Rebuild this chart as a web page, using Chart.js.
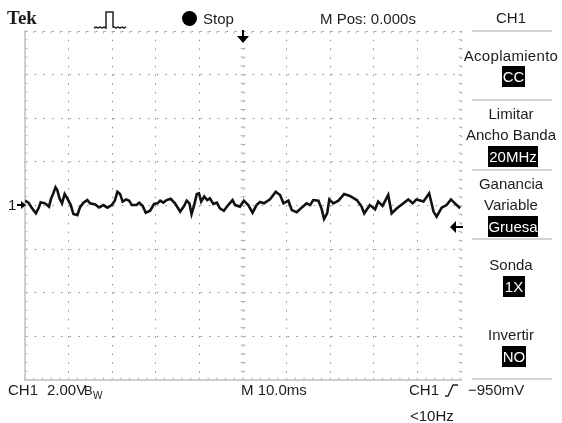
<!DOCTYPE html>
<html lang="en">

<head>
    <meta charset="UTF-8">
    <title>Tek CH1</title>
    <style>
        html, body { margin: 0; padding: 0; background: #fff; }
        #scope {
            position: relative;
            width: 562px;
            height: 423px;
            overflow: hidden;
            font-family: "Liberation Sans", Arial, sans-serif;
            font-size: 15px;
            color: #1c1c1c;
            filter: blur(0.6px);
        }
        canvas { position: absolute; left: 0; top: 0; }
        .t { position: absolute; white-space: nowrap; line-height: 18px; height: 18px; }
        .c { left: 462px; width: 98px; text-align: center; }
        .box { position: absolute; background: #000; color: #fff; text-align: center; font-size: 15px; line-height: 21px; height: 21px; }
        .sep { position: absolute; left: 472px; width: 80px; height: 2px; background: #d4d4d4; }
        svg { position: absolute; }
    </style>
</head>

<body>
    <div id="scope">
        <canvas id="trace" width="562" height="423"></canvas>

        <!-- top bar -->
        <span class="t" style="left:7px;top:9px;font:bold 19px 'Liberation Serif',serif;line-height:18px">Tek</span>
        <svg style="left:92px;top:9px" width="36" height="22" fill="none" stroke="#222" stroke-width="1.5">
            <path d="M2 19l2-1 2 1 2-1 2 1 2-1 2 1V3h7v15h1l2 1 2-1 2 1 2-1 2 1 2-1" />
        </svg>
        <span style="position:absolute;left:182px;top:11px;width:15px;height:15px;border-radius:50%;background:#000"></span>
        <span class="t" style="left:203px;top:10px">Stop</span>
        <span class="t" style="left:320px;top:10px">M Pos: 0.000s</span>

        <!-- markers on the graticule -->
        <svg style="left:236px;top:30px" width="14" height="14" fill="#000"><path d="M6 0h2v6h5l-6 7-6-7h5z" /></svg>
        <svg style="left:449px;top:220px" width="14" height="14" fill="#000"><path d="M14 6v2H7v5L1 7l6-6v5z" /></svg>
        <span class="t" style="left:8px;top:196px">1</span>
        <svg style="left:17px;top:200px" width="10" height="10" fill="#000"><path d="M0 4h4V1l5 4-5 4V6H0z" /></svg>

        <!-- right menu -->
        <span class="t c" style="top:9px">CH1</span>
        <div class="sep" style="top:30px"></div>
        <span class="t c" style="top:47px;letter-spacing:.3px">Acoplamiento</span>
        <div class="box" style="left:502px;top:66px;width:23px">CC</div>
        <div class="sep" style="top:99px"></div>
        <span class="t c" style="top:105px">Limitar</span>
        <span class="t c" style="top:126px">Ancho Banda</span>
        <div class="box" style="left:488px;top:146px;width:50px">20MHz</div>
        <div class="sep" style="top:169px"></div>
        <span class="t c" style="top:175px">Ganancia</span>
        <span class="t c" style="top:196px">Variable</span>
        <div class="box" style="left:488px;top:216px;width:50px">Gruesa</div>
        <div class="sep" style="top:238px"></div>
        <span class="t c" style="top:256px">Sonda</span>
        <div class="box" style="left:503px;top:276px;width:22px">1X</div>
        <span class="t c" style="top:326px">Invertir</span>
        <div class="box" style="left:502px;top:346px;width:24px">NO</div>
        <div class="sep" style="top:378px"></div>

        <!-- bottom readout -->
        <span class="t" style="left:8px;top:381px">CH1</span>
        <span class="t" style="left:47px;top:381px">2.00V</span>
        <span class="t" style="left:84px;top:382px;font-size:13px">B</span>
        <span class="t" style="left:93px;top:387px;font-size:10px">W</span>
        <span class="t" style="left:241px;top:381px">M 10.0ms</span>
        <span class="t" style="left:409px;top:381px">CH1</span>
        <svg style="left:444px;top:382px" width="16" height="16" fill="none" stroke="#222" stroke-width="1.4">
            <path d="M1 14h3l5-11h5" />
        </svg>
        <span class="t" style="left:468px;top:381px">−950mV</span>
        <span class="t" style="left:410px;top:407px">&lt;10Hz</span>
    </div>

    <script src="https://cdn.jsdelivr.net/npm/chart.js"></script>
    <script>
        // CH1 trace
        const timeMs = [-50, -49.2, -48.5, -47.5, -46.9, -46.4, -45.4, -44.5, -44, -43.5, -43, -42.6, -42.1, -41.5, -40.9, -40.3,
            -39.5, -38.9, -38, -37.4, -36.6, -35.7, -35.1, -33.9, -33, -32, -31.1, -30.1, -29.4, -28.8, -28.2, -27.6,
            -26.8, -26.1, -25.5, -24.4, -23.8, -23, -22.3, -21.3, -20.4, -19.6, -19, -18.3, -17.5, -16.6, -15.6, -14.4,
            -13.5, -12.9, -12.3, -11.8, -11.2, -10.6, -10.1, -9.6, -8.9, -8.2, -7.6, -6.8, -6, -5.3, -4.4, -3.4,
            -2.4, -1.8, -0.7, 0.2, 1.2, 2.2, 3.1, 3.9, 4.8, 6.2, 7.5, 8.5, 9.3, 10.4, 11.2, 12.3,
            13.5, 14.6, 15.4, 16.1, 17.3, 18, 18.6, 19.3, 19.8, 20.7, 21.9, 23.2, 24.5, 26.1, 27.2, 27.8,
            29.1, 30.3, 31, 32, 33.3, 34.1, 35.3, 36.8, 37.9, 38.9, 39.8, 41.4, 42.7, 43.7, 44.4, 45.6,
            46.7, 47.7, 48.6, 49.8];
        const ch1Volts = [0.22, 0.13, -0.09, -0.36, -0.13, 0.15, 0.1, -0.05, 0.33, 0.56, 0.83, 0.71, 0.33, 0.1, 0.53, 0.33,
            0.02, -0.39, -0.44, -0.09, 0.13, 0.25, 0.1, 0.05, -0.09, 0.02, -0.1, 0.02, 0.22, 0.63, 0.53, 0.18,
            0.28, 0.22, 0.02, 0.02, 0.13, -0.02, -0.33, -0.24, 0.07, 0.1, 0.22, 0.13, 0.25, 0.31, 0.1, -0.28,
            -0.02, 0.22, 0.1, -0.39, 0.02, 0.53, 0.56, 0.18, 0.41, 0.25, 0.33, 0.07, 0.13, -0.13, -0.24, 0.02,
            0.25, 0.02, -0.05, 0.22, 0.02, -0.33, 0.02, 0.16, 0.1, 0.28, 0.63, 0.48, 0.1, 0.22, -0.21, -0.31,
            -0.09, 0.1, 0.02, 0.25, 0.22, -0.13, -0.62, -0.36, 0.28, 0.1, 0.22, 0.53, 0.44, 0.25, -0.05, -0.36,
            0.02, -0.18, 0.18, -0.02, 0.48, -0.36, -0.13, 0.1, 0.28, 0.1, 0.28, 0.18, 0.56, -0.28, -0.51, -0.09,
            0.02, 0.28, 0.1, -0.13];

        // graticule: 10 x 8 divisions, 10 ms/div and 2 V/div, five minor marks per division
        const xMin = -50, xMax = 50, msPerDiv = 10;
        const yMin = -8, yMax = 8, voltsPerDiv = 2;
        const xMinor = Array.from({ length: 51 }, (_, i) => xMin + i * 2);
        const yMinor = Array.from({ length: 41 }, (_, i) => yMin + i * 0.4);

        const tickColor = "#b4b4b4";
        const vertTicks = [yMax, yMin].flatMap(y => xMinor.map(x => ({ x, y })));
        const horizTicks = [xMin, 0, xMax].flatMap(x => yMinor.map(y => ({ x, y })));

        const tickSet = (data, rotation) => ({
            type: "scatter",
            data,
            showLine: false,
            pointStyle: "line",
            rotation,
            pointRadius: 2.5,
            pointBorderWidth: 1,
            pointBorderColor: tickColor,
            pointHoverRadius: 0
        });

        new Chart(document.getElementById("trace").getContext("2d"), {
            type: "scatter",
            data: {
                datasets: [
                    {
                        label: "CH1",
                        data: timeMs.map((t, i) => ({ x: t, y: ch1Volts[i] })),
                        showLine: true,
                        borderColor: "#111",
                        borderWidth: 2.6,
                        pointRadius: 0,
                        tension: 0
                    },
                    tickSet(vertTicks, 90),
                    tickSet(horizTicks, 0)
                ]
            },
            options: {
                responsive: false,
                animation: false,
                layout: { padding: { left: 25, right: 101, top: 31, bottom: 43 } },
                plugins: { legend: { display: false }, tooltip: { enabled: false } },
                scales: {
                    x: {
                        type: "linear",
                        min: xMin,
                        max: xMax,
                        ticks: { display: false, stepSize: msPerDiv },
                        border: { color: "#cfcfcf", width: 2, dash: [1.5, 7.22] },
                        grid: { color: "#8c8c8c", lineWidth: 1, drawTicks: false }
                    },
                    y: {
                        type: "linear",
                        min: yMin,
                        max: yMax,
                        ticks: { display: false, stepSize: voltsPerDiv },
                        border: { color: "#cfcfcf", width: 2, dash: [1.5, 7.22] },
                        grid: { color: "#8c8c8c", lineWidth: 1, drawTicks: false }
                    }
                }
            }
        });
    </script>
</body>

</html>
